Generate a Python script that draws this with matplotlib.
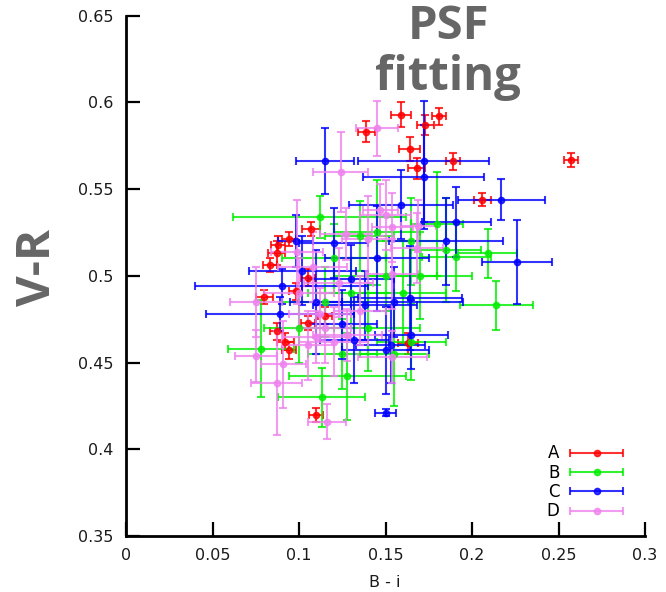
import numpy as np
import matplotlib
matplotlib.use("Agg")
from matplotlib import pyplot as plt
from matplotlib.container import ErrorbarContainer
from matplotlib.legend_handler import HandlerErrorbar

plt.rcParams['font.family'] = ['DejaVu Sans']

# series A (red): x, y, x error, y error
a_x = [0.257, 0.159, 0.139, 0.181, 0.173, 0.164, 0.189, 0.206, 0.168, 0.107, 0.087,
       0.094, 0.088, 0.105, 0.080, 0.098, 0.092, 0.094, 0.087, 0.105, 0.110, 0.163,
       0.115, 0.083]
a_y = [0.567, 0.593, 0.583, 0.592, 0.587, 0.573, 0.566, 0.544, 0.562, 0.527, 0.513,
       0.521, 0.518, 0.499, 0.488, 0.491, 0.462, 0.457, 0.468, 0.473, 0.420, 0.461,
       0.477, 0.506]
a_xe = [0.004, 0.006, 0.005, 0.004, 0.005, 0.006, 0.004, 0.005, 0.005, 0.005, 0.005,
        0.004, 0.004, 0.004, 0.005, 0.004, 0.005, 0.004, 0.004, 0.004, 0.004, 0.006,
        0.004, 0.004]
a_ye = [0.004, 0.007, 0.006, 0.005, 0.006, 0.007, 0.005, 0.004, 0.006, 0.004, 0.007,
        0.004, 0.005, 0.005, 0.004, 0.005, 0.005, 0.005, 0.005, 0.004, 0.004, 0.006,
        0.005, 0.004]

# series B (green)
b_x = [0.078, 0.113, 0.112, 0.214, 0.209, 0.128, 0.191, 0.135, 0.145, 0.120, 0.150,
       0.160, 0.140, 0.165, 0.180, 0.100, 0.115, 0.155, 0.130, 0.170, 0.125, 0.165,
       0.185]
b_y = [0.458, 0.430, 0.534, 0.483, 0.513, 0.442, 0.511, 0.523, 0.525, 0.510, 0.500,
       0.490, 0.470, 0.520, 0.530, 0.470, 0.485, 0.455, 0.490, 0.500, 0.455, 0.462,
       0.515]
b_xe = [0.019, 0.025, 0.050, 0.021, 0.017, 0.034, 0.020, 0.020, 0.025, 0.030, 0.030,
        0.025, 0.030, 0.020, 0.015, 0.020, 0.025, 0.020, 0.025, 0.030, 0.020, 0.020,
        0.020]
b_ye = [0.028, 0.017, 0.012, 0.014, 0.014, 0.025, 0.020, 0.020, 0.030, 0.020, 0.020,
        0.030, 0.025, 0.025, 0.030, 0.020, 0.020, 0.030, 0.020, 0.025, 0.020, 0.022,
        0.030]

# series C (blue)
c_x = [0.115, 0.217, 0.226, 0.172, 0.172, 0.159, 0.191, 0.185, 0.120, 0.130, 0.164,
       0.138, 0.165, 0.150, 0.153, 0.150, 0.089, 0.090, 0.102, 0.132, 0.098, 0.110,
       0.145, 0.155, 0.125]
c_y = [0.566, 0.544, 0.508, 0.566, 0.557, 0.541, 0.531, 0.520, 0.519, 0.498, 0.487,
       0.483, 0.466, 0.457, 0.460, 0.421, 0.478, 0.494, 0.503, 0.463, 0.520, 0.485,
       0.510, 0.485, 0.472]
c_xe = [0.017, 0.025, 0.020, 0.038, 0.035, 0.030, 0.020, 0.033, 0.020, 0.025, 0.030,
        0.030, 0.021, 0.025, 0.020, 0.006, 0.043, 0.050, 0.031, 0.020, 0.010, 0.015,
        0.030, 0.040, 0.020]
c_ye = [0.019, 0.012, 0.024, 0.035, 0.030, 0.020, 0.020, 0.025, 0.020, 0.020, 0.030,
        0.020, 0.020, 0.025, 0.022, 0.002, 0.010, 0.010, 0.020, 0.025, 0.015, 0.030,
        0.030, 0.020, 0.020]

# series D (violet)
d_x = [0.124, 0.145, 0.099, 0.108, 0.075, 0.075, 0.091, 0.087, 0.116, 0.154, 0.128,
       0.147, 0.150, 0.140, 0.154, 0.169, 0.168, 0.154, 0.127, 0.123, 0.110, 0.115,
       0.105, 0.120, 0.112, 0.100, 0.135]
d_y = [0.560, 0.585, 0.514, 0.505, 0.485, 0.454, 0.449, 0.438, 0.416, 0.453, 0.466,
       0.538, 0.535, 0.521, 0.528, 0.529, 0.516, 0.501, 0.524, 0.496, 0.465, 0.470,
       0.460, 0.462, 0.478, 0.490, 0.480]
d_xe = [0.016, 0.012, 0.015, 0.020, 0.015, 0.012, 0.013, 0.015, 0.011, 0.020, 0.020,
        0.010, 0.015, 0.015, 0.012, 0.010, 0.015, 0.015, 0.015, 0.020, 0.020, 0.015,
        0.015, 0.020, 0.018, 0.020, 0.015]
d_ye = [0.023, 0.016, 0.030, 0.020, 0.020, 0.015, 0.025, 0.030, 0.010, 0.015, 0.015,
        0.015, 0.020, 0.025, 0.020, 0.015, 0.020, 0.020, 0.015, 0.020, 0.015, 0.020,
        0.020, 0.020, 0.015, 0.020, 0.020]

labels = ['A', 'B', 'C', 'D']
colors = ['#ff0000', '#00ee00', '#0000ff', '#ee82ee']

x_ticks = [0, 0.05, 0.1, 0.15, 0.2, 0.25, 0.3]
x_ticklabels = ['0', '0.05', '0.1', '0.15', '0.2', '0.25', '0.3']
y_ticks = [0.35, 0.4, 0.45, 0.5, 0.55, 0.6, 0.65]
y_ticklabels = ['0.35', '0.4', '0.45', '0.5', '0.55', '0.6', '0.65']

fig = plt.figure(figsize=(6.66, 5.92), dpi=100)
ax = fig.add_axes([0.1892, 0.0946, 0.7793, 0.8789])

series = [(a_x, a_y, a_xe, a_ye), (b_x, b_y, b_xe, b_ye),
          (c_x, c_y, c_xe, c_ye), (d_x, d_y, d_xe, d_ye)]
handles = []
for (x, y, xe, ye), lab, col in zip(series, labels, colors):
    cont = ax.errorbar(x, y, xerr=xe, yerr=ye, fmt='o', color=col, ms=4.5,
                       elinewidth=1.5, capsize=2.8, capthick=1.5, alpha=0.8)
    # legend shows only the horizontal bar, as in the original
    handles.append(ErrorbarContainer(cont.lines, has_xerr=True, has_yerr=False, label=lab))

ax.set_xlim(0, 0.3)
ax.set_ylim(0.35, 0.65)
ax.set_xticks(x_ticks)
ax.set_xticklabels(x_ticklabels)
ax.set_yticks(y_ticks)
ax.set_yticklabels(y_ticklabels)
for s in ['top', 'right']:
    ax.spines[s].set_visible(False)
for s in ['left', 'bottom']:
    ax.spines[s].set_linewidth(2)
ax.tick_params(direction='in', length=10, width=1.6, labelsize=11.5, pad=9,
               labelcolor='#1a1a1a')

ax.set_xlabel('B - i', fontsize=11.5, color='#1a1a1a')
ax.xaxis.set_label_coords(0.499, -0.075)

leg = ax.legend(handles=handles, loc='lower right', bbox_to_anchor=(0.96, 0.03),
                markerfirst=False, frameon=False, fontsize=12, handlelength=3.3,
                handletextpad=0.6, labelspacing=0.08, borderpad=0, borderaxespad=0,
                handler_map={ErrorbarContainer: HandlerErrorbar(xerr_size=1.6)})

fig.text(448 / 666, 0.995, 'PSF\nfitting', ha='center', va='top', fontsize=34,
         fontweight='bold', color='#666666', family='Open Sans', linespacing=1.1)
fig.text(38 / 666, 1 - 267 / 592, 'V-R', rotation=90, ha='center', va='center',
         fontsize=34, fontweight='bold', color='#666666', family='Open Sans')

fig.savefig('out.png', dpi=100)
